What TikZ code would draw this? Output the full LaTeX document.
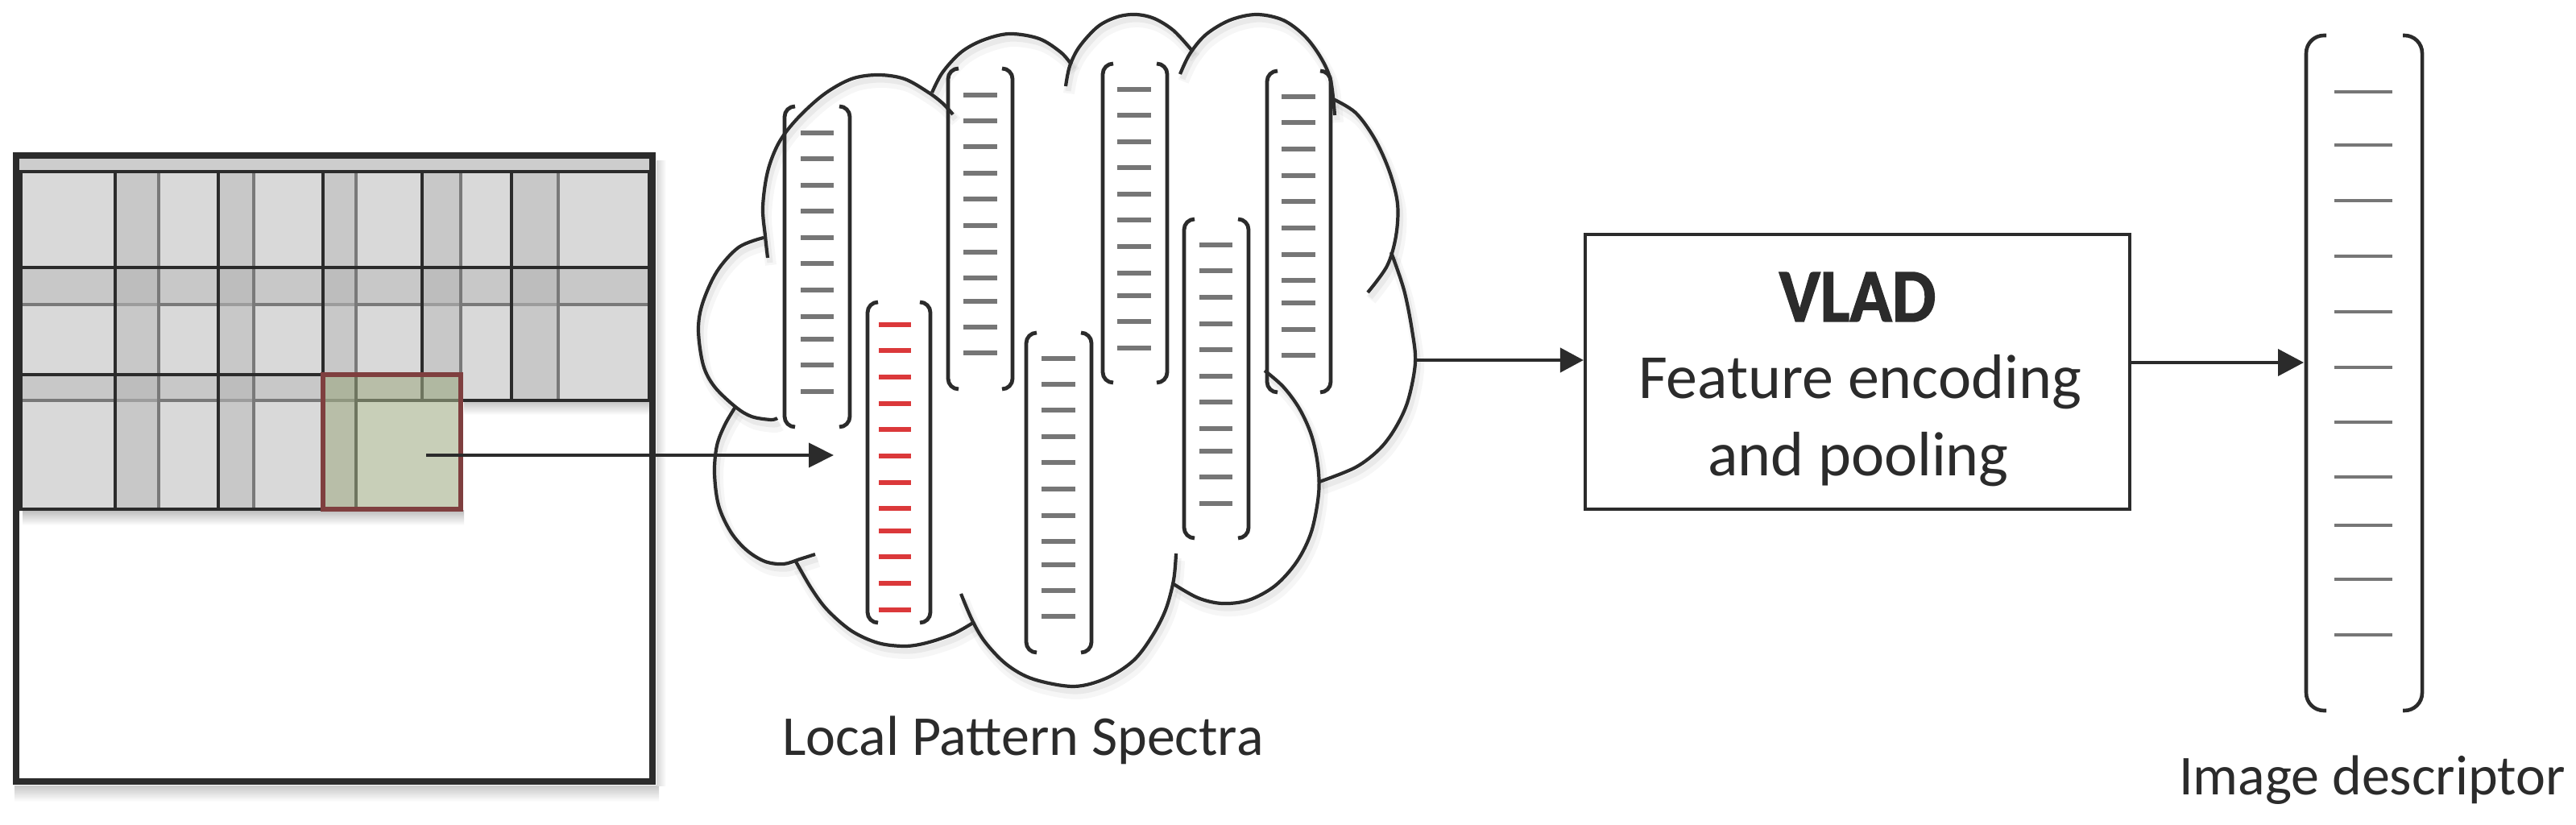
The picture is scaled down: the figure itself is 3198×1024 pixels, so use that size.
\documentclass[tikz,border=0pt]{standalone}
\usepackage{fontspec}
\setmainfont{Carlito}
\newfontfamily\vladfont[FakeStretch=0.92,FakeBold=1.5]{Carlito}
\usetikzlibrary{arrows.meta}
\definecolor{dk}{RGB}{43,43,43}
\definecolor{tickgray}{RGB}{118,118,118}
\definecolor{tickred}{RGB}{219,56,58}
\definecolor{winfill}{RGB}{186,186,186}
\definecolor{bandgray}{RGB}{205,205,205}
\definecolor{greenfill}{RGB}{160,172,133}
\definecolor{redb}{RGB}{127,63,63}
\newcommand\cloudlines[1]{%
\draw[#1] plot[smooth,tension=0.55] coordinates {(948,295) (917,307) (890,337) (872,377) (867,410) (873,453) (887,480) (913,505) (933,517) (957,521) (965,519)};
\draw[#1] plot[smooth,tension=0.55] coordinates {(953,320) (950,293) (947,257) (953,213) (967,177) (990,147) (1023,117) (1057,98) (1090,93) (1123,98) (1153,115) (1170,128) (1183,142)};
\draw[#1] plot[smooth,tension=0.55] coordinates {(1157,115) (1170,90) (1193,65) (1220,50) (1253,42) (1290,48) (1317,65) (1330,80)};
\draw[#1] plot[smooth,tension=0.55] coordinates {(1323,107) (1328,82) (1340,58) (1363,33) (1387,21) (1410,18) (1433,23) (1457,38) (1480,63)};
\draw[#1] plot[smooth,tension=0.55] coordinates {(1465,92) (1477,67) (1497,43) (1527,25) (1560,18) (1593,25) (1620,45) (1640,72) (1652,100) (1657,143)};
\draw[#1] plot[smooth,tension=0.55] coordinates {(1655,123) (1683,140) (1707,173) (1725,213) (1735,253) (1733,293) (1722,330) (1698,363)};
\draw[#1] plot[smooth,tension=0.55] coordinates {(1727,313) (1743,360) (1753,410) (1757,450) (1748,497) (1733,530) (1713,557) (1683,580) (1638,598)};
\draw[#1] plot[smooth,tension=0.55] coordinates {(1570,460) (1593,480) (1613,507) (1628,540) (1636,577) (1637,613) (1628,660) (1610,697) (1583,727) (1550,745) (1517,749) (1487,742) (1457,725)};
\draw[#1] plot[smooth,tension=0.55] coordinates {(1460,687) (1457,720) (1447,757) (1430,790) (1407,820) (1373,842) (1333,852) (1283,843) (1250,825) (1223,797) (1207,770) (1193,737)};
\draw[#1] plot[smooth,tension=0.55] coordinates {(1208,773) (1183,787) (1150,798) (1123,802) (1090,798) (1057,783) (1027,757) (1007,730) (988,697)};
\draw[#1] plot[smooth,tension=0.55] coordinates {(1012,688) (993,694) (973,700) (950,697) (927,683) (907,660) (892,627) (887,587) (890,553) (900,527) (913,505)};
}
\begin{document}
\begin{tikzpicture}[x=0.25pt,y=-0.25pt,
  win/.style={fill=winfill, fill opacity=0.55, draw=dk, line width=1.1pt},
  brk/.style={draw=dk, line width=1.2pt, rounded corners=3.25pt},
  dbrk/.style={draw=dk, line width=1.15pt, rounded corners=5.5pt},
  tick/.style={draw=tickgray, line width=1.3pt},
  rtick/.style={draw=tickred, line width=1.3pt},
  dtick/.style={draw=tickgray, line width=0.95pt},
  cl/.style={draw=dk, line width=1.05pt},
  txt/.style={text=dk, inner sep=0pt, font=\fontsize{17.5pt}{21pt}\selectfont},
  btxt/.style={text=dk, inner sep=0pt, font=\fontsize{19.5pt}{23pt}\selectfont},
  arrA/.style={draw=dk, line width=1.1pt, -{Triangle[length=7.75pt,width=7.5pt]}},
  arrB/.style={draw=dk, line width=1.05pt, -{Triangle[length=7.25pt,width=7.5pt]}},
  arrC/.style={draw=dk, line width=0.95pt, -{Triangle[length=8pt,width=8.25pt]}},
]
\useasboundingbox (0,0) rectangle (3198,1024);

% ---------- left panel: image with overlapping windows ----------
\shade[top color=black!25, bottom color=white] (28,634) rectangle (576,652);
\shade[top color=black!22, bottom color=white] (576,499) rectangle (806,515);
\shade[top color=black!22, bottom color=white] (18,975) rectangle (818,995);
\shade[left color=black!16, right color=white] (815,200) rectangle (827,975);
\fill[bandgray] (24,197) rectangle (806,211);
\foreach \yy in {213,332}{
  \foreach \xa/\xb in {26/197,143/315,271/442,401/572,524/693,635/806}{
    \filldraw[win] (\xa,\yy) rectangle (\xb,\yy+165);
  }
}
\foreach \xa/\xb in {26/197,143/315,271/442}{
  \filldraw[win] (\xa,465) rectangle (\xb,632);
}
\node[draw=redb, line width=1.6pt, fill=greenfill, fill opacity=0.58,
      minimum width=42.75pt, minimum height=41.75pt, inner sep=0pt] (patch) at (486.5,548.5) {};
\node[draw=dk, line width=2.1pt, minimum width=197.5pt, minimum height=194.25pt, inner sep=0pt] (frame) at (415,581.5) {};

% ---------- cloud ----------
\cloudlines{draw=black, draw opacity=0.035, line width=3.5pt, shift={(4,9)}}
\cloudlines{draw=black, draw opacity=0.05, line width=1.8pt, shift={(3,6)}}
\cloudlines{cl}

% vectors in the cloud
\foreach \xl/\xr/\tp/\bt in {974/1055/132/530, 1077/1155/375/773, 1177/1257/85/483, 1274/1355/413/810, 1369/1449/79/475, 1470/1550/272/668, 1573/1652/88/487}{
  \draw[brk] (\xl+13,\tp) -- (\xl,\tp) -- (\xl,\bt) -- (\xl+13,\bt);
  \draw[brk] (\xr-13,\tp) -- (\xr,\tp) -- (\xr,\bt) -- (\xr-13,\bt);
}
\foreach \t in {165,197,230,262,295,327,360,393,421,453,486} \draw[tick] (994,\t) -- (1035,\t);
\foreach \t in {403,435,468,501,533,566,599,631,659,691,724,757} \draw[rtick] (1091,\t) -- (1131,\t);
\foreach \t in {118,150,182,215,247,280,313,345,374,406,438} \draw[tick] (1196,\t) -- (1238,\t);
\foreach \t in {445,477,509,542,574,607,640,672,701,733,765} \draw[tick] (1293,\t) -- (1335,\t);
\foreach \t in {111,143,176,208,241,273,306,339,367,399,432} \draw[tick] (1387,\t) -- (1429,\t);
\foreach \t in {304,336,369,402,434,467,499,532,560,592,625} \draw[tick] (1489,\t) -- (1530,\t);
\foreach \t in {120,152,185,218,250,283,316,348,376,409,441} \draw[tick] (1591,\t) -- (1633,\t);

\node[txt, anchor=base] (lps) at (1270,937) {Local Pattern Spectra};

% ---------- VLAD box ----------
\node[draw=dk, line width=1.05pt, minimum width=169pt, minimum height=85.25pt, inner sep=0pt] (vlad) at (2306,461.5) {};
\node[text=dk, inner sep=0pt, anchor=base, font=\vladfont\bfseries\fontsize{23.5pt}{26pt}\selectfont] (vladt) at (2306,399) {VLAD};
\node[btxt, anchor=base] (fe1) at (2309,495) {Feature encoding};
\node[btxt, anchor=base] (fe2) at (2307,591) {and pooling};

% ---------- image descriptor ----------
\node[inner sep=0pt, minimum width=36pt, minimum height=209.5pt] (desc) at (2935,463) {};
\draw[dbrk] (2888,44) -- (2863,44) -- (2863,882) -- (2888,882);
\draw[dbrk] (2983,44) -- (3007,44) -- (3007,882) -- (2983,882);
\foreach \t in {114,180,249,318,387,456,524,592,652,719,788} \draw[dtick] (2898,\t) -- (2970,\t);
\node[txt, anchor=base] (idesc) at (2945,987) {Image descriptor};

% ---------- connectors ----------
\coordinate (pstart) at (529,565);
\coordinate (lpsin) at (1035,565);
\draw[arrA] (pstart) -- (lpsin);
\coordinate (cloudout) at (1757,447);
\draw[arrB] (cloudout) -- (vlad.west |- cloudout);
\coordinate (descin) at (2860,450);
\draw[arrC] (vlad.east |- descin) -- (descin);
\end{tikzpicture}
\end{document}
